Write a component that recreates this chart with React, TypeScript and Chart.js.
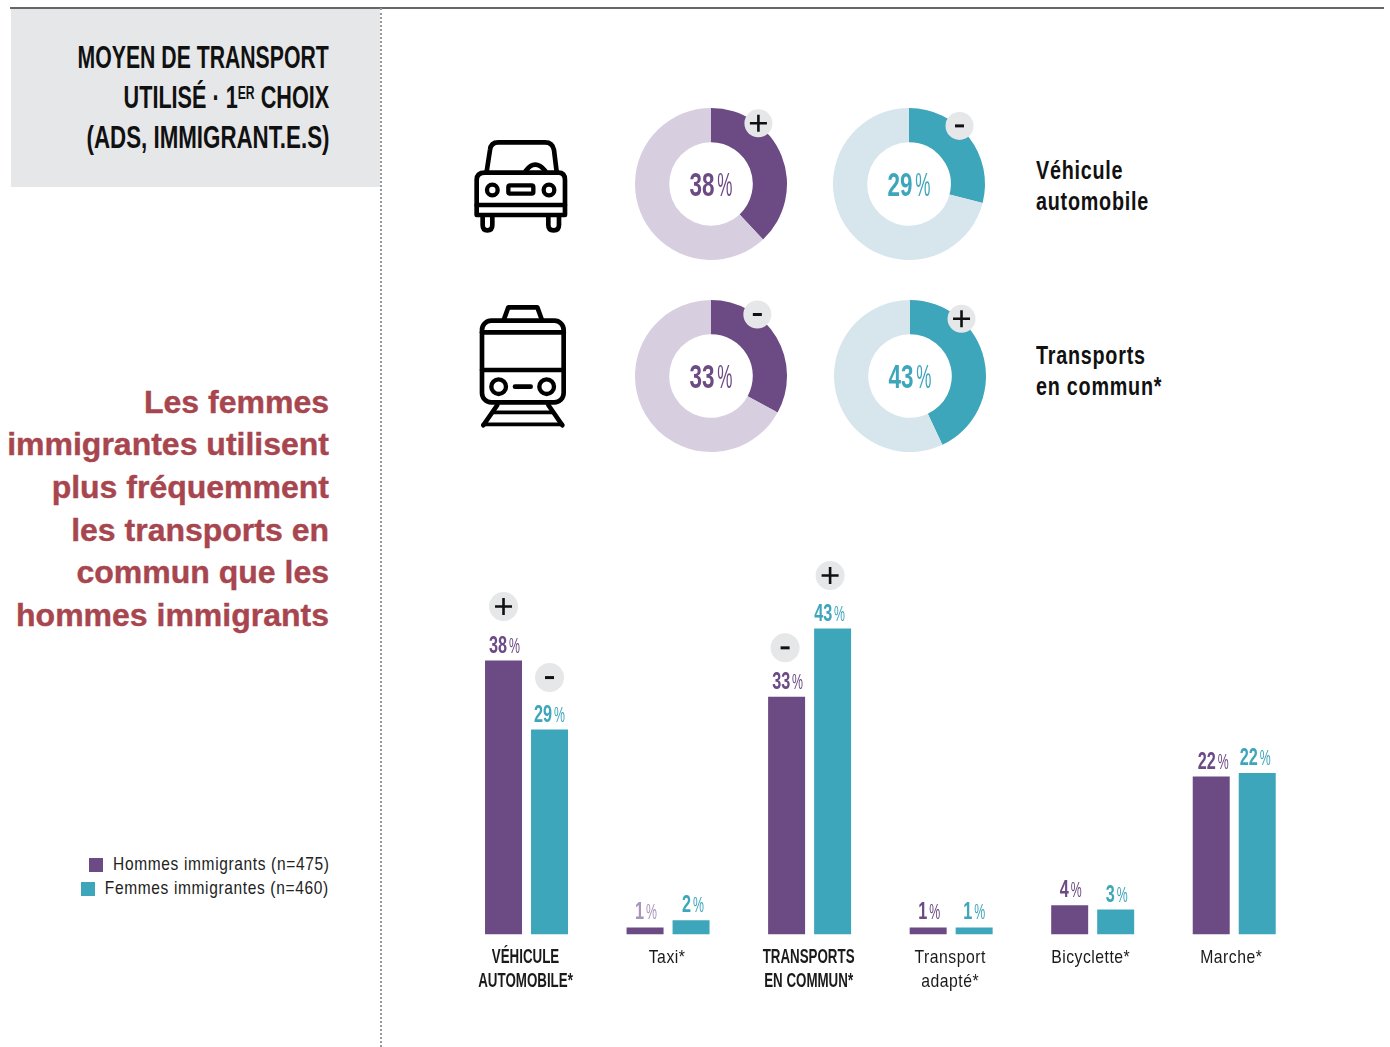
import React, { useEffect, useRef } from "react";
import { Chart, registerables } from "chart.js";

Chart.register(...registerables);

const categories = [["VÉHICULE", "AUTOMOBILE*"], ["Taxi*"], ["TRANSPORTS", "EN COMMUN*"], ["Transport", "adapté*"], ["Bicyclette*"], ["Marche*"]];
const boldCategories = [true, false, true, false, false, false];
const menBars = [38.5, 1, 33.4, 1, 4.1, 22.2];
const womenBars = [28.8, 2, 43, 1, 3.5, 22.7];
const menLabels = ["38", "1", "33", "1", "4", "22"];
const womenLabels = ["29", "2", "43", "1", "3", "22"];
const menBadges = ["+", "", "-", "", "", ""];
const womenBadges = ["-", "", "+", "", "", ""];
const fadedMenLabels = [false, true, false, false, false, false];

const donutValues = [38, 29, 33, 43];
const donutBadges = ["+", "-", "-", "+"];
const seriesNames = ["Hommes immigrants (n=475)", "Femmes immigrantes (n=460)"];

const PURPLE = "#6c4a83";
const TEAL = "#3ea6ba";
const PURPLE_LIGHT = "#d7cfdf";
const TEAL_LIGHT = "#d6e6ec";
const BADGE = "#e6e7e8";
const NARROW = '"Liberation Sans Narrow", "Liberation Sans", sans-serif';

function drawPct(ctx: CanvasRenderingContext2D, x: number, y: number, num: string, size: number, color: string, sx: number) {
  ctx.save();
  ctx.translate(x, y);
  ctx.scale(sx, 1);
  ctx.fillStyle = color;
  ctx.textBaseline = "alphabetic";
  ctx.textAlign = "left";
  ctx.font = `bold ${size}px ${NARROW}`;
  const w1 = ctx.measureText(num).width;
  const gap = size * 0.12;
  ctx.font = `${size * 0.95}px ${NARROW}`;
  const w2 = ctx.measureText("%").width * 0.8;
  const start = -(w1 + gap + w2) / 2;
  ctx.font = `bold ${size}px ${NARROW}`;
  ctx.fillText(num, start, 0);
  ctx.translate(start + w1 + gap, 0);
  ctx.scale(0.8, 1);
  ctx.font = `${size * 0.95}px ${NARROW}`;
  ctx.fillText("%", 0, 0);
  ctx.restore();
}

function drawBadge(ctx: CanvasRenderingContext2D, x: number, y: number, sign: string, r: number) {
  ctx.save();
  ctx.fillStyle = BADGE;
  ctx.beginPath();
  ctx.arc(x, y, r, 0, Math.PI * 2);
  ctx.fill();
  ctx.strokeStyle = "#111";
  ctx.lineWidth = 2.6;
  ctx.beginPath();
  if (sign === "+") {
    ctx.moveTo(x - 8.5, y);
    ctx.lineTo(x + 8.5, y);
    ctx.moveTo(x, y - 8.5);
    ctx.lineTo(x, y + 8.5);
  } else {
    ctx.lineWidth = 3;
    ctx.moveTo(x - 4.5, y);
    ctx.lineTo(x + 4.5, y);
  }
  ctx.stroke();
  ctx.restore();
}

function Donut({ index, left, top, badgeAngle }: { index: number; left: number; top: number; badgeAngle: number }) {
  const ref = useRef<HTMLCanvasElement>(null);
  useEffect(() => {
    const value = donutValues[index];
    const isMen = index % 2 === 0;
    const chart = new Chart(ref.current!, {
      type: "doughnut",
      data: {
        labels: ["Oui", "Autre"],
        datasets: [
          {
            data: [value, 100 - value],
            backgroundColor: [isMen ? PURPLE : TEAL, isMen ? PURPLE_LIGHT : TEAL_LIGHT],
            borderWidth: 0,
          },
        ],
      },
      options: {
        animation: false,
        responsive: false,
        cutout: "55%",
        layout: { padding: 10 },
        plugins: { legend: { display: false }, tooltip: { enabled: false } },
      },
      plugins: [
        {
          id: "donutText",
          afterDraw(c: any) {
            const arc = c.getDatasetMeta(0).data[0];
            const ctx = c.ctx;
            drawPct(ctx, arc.x, arc.y + 12, String(value), 34, isMen ? PURPLE : TEAL, 0.66);
            const a = (badgeAngle * Math.PI) / 180;
            drawBadge(ctx, arc.x + 77 * Math.sin(a), arc.y - 77 * Math.cos(a), donutBadges[index], 14);
          },
        },
      ],
    } as any);
    return () => chart.destroy();
  }, []);
  return <canvas ref={ref} width={172} height={172} style={{ position: "absolute", left, top, width: 172, height: 172 }} />;
}

function Bars() {
  const ref = useRef<HTMLCanvasElement>(null);
  useEffect(() => {
    const badgeNudge: Record<string, [number, number]> = {
      "0-0": [0, -54],
      "1-0": [0, -52],
      "0-2": [-1.5, -49],
      "1-2": [-2.5, -53],
    };
    const menLabelNudge = [1, 1, 1, 1, 1, 2];
    const womenLabelNudge = [0, 2, -3, 0, 1, -2];
    const categoryNudge = [-1, -1, -1, -1, -2, -3];
    const chart = new Chart(ref.current!, {
      type: "bar",
      data: {
        labels: categories.map((c) => c.join(" ")),
        datasets: [
          { label: seriesNames[0], data: menBars, backgroundColor: PURPLE, borderWidth: 0, categoryPercentage: 0.65, barPercentage: 0.804 },
          { label: seriesNames[1], data: womenBars, backgroundColor: TEAL, borderWidth: 0, categoryPercentage: 0.65, barPercentage: 0.804 },
        ],
      },
      options: {
        animation: false,
        responsive: false,
        layout: { padding: { left: 15.75, right: 15, top: 0, bottom: 65.5 } },
        scales: {
          x: { display: false, grid: { display: false } },
          y: { display: false, min: 0, max: 52.63, grid: { display: false } },
        },
        plugins: { legend: { display: false }, tooltip: { enabled: false } },
      },
      plugins: [
        {
          id: "barText",
          afterDraw(c: any) {
            const ctx = c.ctx;
            [c.getDatasetMeta(0), c.getDatasetMeta(1)].forEach((meta: any, ds: number) => {
              meta.data.forEach((bar: any, i: number) => {
                const num = (ds === 0 ? menLabels : womenLabels)[i];
                const faded = ds === 0 && fadedMenLabels[i];
                const color = faded ? "#a994bb" : ds === 0 ? PURPLE : TEAL;
                const nudge = (ds === 0 ? menLabelNudge : womenLabelNudge)[i];
                drawPct(ctx, bar.x + nudge, bar.y - 8, num, 23.5, color, 0.69);
                const sign = (ds === 0 ? menBadges : womenBadges)[i];
                if (sign) {
                  const [dx, dy] = badgeNudge[`${ds}-${i}`];
                  drawBadge(ctx, bar.x + dx, bar.y + dy, sign, 14.5);
                }
              });
            });
            const xs = c.scales.x;
            categories.forEach((lines, i) => {
              const cx = xs.getPixelForValue(i) + categoryNudge[i];
              lines.forEach((line, l) => {
                const bold = boldCategories[i];
                const y = 402.5 + 24 * l;
                ctx.save();
                ctx.translate(cx, y);
                ctx.scale(bold ? 0.667 : 0.83, 1);
                ctx.font = `${bold ? "bold " : ""}${bold ? 20 : 19}px ${NARROW}`;
                (ctx as any).letterSpacing = bold ? "0px" : "0.6px";
                ctx.fillStyle = "#1a1a1a";
                ctx.textAlign = "center";
                ctx.textBaseline = "alphabetic";
                ctx.fillText(line, 0, 0);
                ctx.restore();
              });
            });
          },
        },
      ],
    } as any);
    return () => chart.destroy();
  }, []);
  return <canvas ref={ref} width={880} height={440} style={{ position: "absolute", left: 440, top: 560, width: 880, height: 440 }} />;
}

function Txt({ children, x, y, size, align = "right", sx = 1, bold = false, color = "#111", family = NARROW, spacing = 0, stroke = 0 }: any) {
  const style: any = {
    position: "absolute",
    top: y - size,
    lineHeight: `${size * 2}px`,
    fontFamily: family,
    fontSize: size,
    fontWeight: bold ? 700 : 400,
    color,
    whiteSpace: "nowrap",
    letterSpacing: spacing,
    transform: `scaleX(${sx})`,
    WebkitTextStroke: stroke ? `${stroke}px ${color}` : undefined,
  };
  if (align === "right") {
    style.right = 1390 - x;
    style.transformOrigin = "right center";
  } else {
    style.left = x;
    style.transformOrigin = "left center";
  }
  return <div style={style}>{children}</div>;
}

function Icons() {
  return (
    <svg width={1390} height={1047} style={{ position: "absolute", left: 0, top: 0, pointerEvents: "none" }}>
      <g transform="translate(460,90) scale(0.3333)" fill="none" stroke="#000" strokeWidth={14} strokeLinecap="round" strokeLinejoin="round">
        <path d="M80 245 L90 180 Q92 157 115 157 H255 Q278 157 282 180 L290 245" />
        <path d="M50 375 V270 Q50 248 75 248 H295 Q315 248 315 270 V375 Z" />
        <path d="M197 243 Q225 205 256 243" />
        <path d="M50 345 H315" />
        <circle cx={97} cy={300} r={16} strokeWidth={13} />
        <circle cx={267} cy={300} r={16} strokeWidth={13} />
        <rect x={145} y={286} width={75} height={25} rx={5} strokeWidth={13} />
        <path d="M68 378 V405 Q68 421 82 421 Q97 421 97 405 V378" />
        <path d="M265 378 V405 Q265 421 281 421 Q297 421 297 405 V378" />
      </g>
      <g transform="translate(460,90) scale(0.3333)" fill="none" stroke="#000" strokeWidth={14} strokeLinecap="round" strokeLinejoin="round">
        <path d="M132 688 L145 652 H232 L245 688" />
        <rect x={66} y={692} width={245} height={245} rx={28} />
        <path d="M66 727 H311" />
        <path d="M66 840 H311" />
        <circle cx={116} cy={890} r={22} strokeWidth={13} />
        <circle cx={260} cy={890} r={22} strokeWidth={13} />
        <path d="M165 890 H212" />
        <path d="M112 945 L70 1006" />
        <path d="M265 945 L307 1006" />
        <path d="M100 967 H278" strokeWidth={11} />
        <path d="M70 1003 H307" strokeWidth={11} />
      </g>
    </svg>
  );
}

export default function App() {
  const red = "#a8464f";
  const redLines = ["Les femmes", "immigrantes utilisent", "plus fréquemment", "les transports en", "commun que les", "hommes immigrants"];
  const redY = [402, 444, 487, 530, 572, 615];
  return (
    <div style={{ position: "absolute", left: 0, top: 0, width: 1390, height: 1047, overflow: "hidden", background: "#fff" }}>
      <div style={{ position: "absolute", left: 11, top: 9, width: 369, height: 178, background: BADGE }} />
      <div style={{ position: "absolute", left: 10, top: 7, width: 1374, height: 2, background: "#666" }} />
      <div style={{ position: "absolute", left: 380, top: 8, height: 1039, borderLeft: "2px dotted #999" }} />

      <Txt x={329} y={57} size={32} sx={0.663} bold>MOYEN DE TRANSPORT</Txt>
      <Txt x={329} y={97} size={32} sx={0.676} bold>
        UTILISÉ · 1<sup style={{ fontSize: 18, lineHeight: 0, verticalAlign: "9px" }}>ER</sup> CHOIX
      </Txt>
      <Txt x={329} y={137} size={32} sx={0.697} bold>(ADS, IMMIGRANT.E.S)</Txt>

      {redLines.map((t, i) => (
        <Txt key={i} x={329} y={redY[i]} size={32} bold color={red} stroke={0.4} family='"Liberation Sans", sans-serif'>{t}</Txt>
      ))}

      <div style={{ position: "absolute", left: 89, top: 858, width: 14, height: 14, background: PURPLE }} />
      <div style={{ position: "absolute", left: 81, top: 882, width: 14, height: 14, background: TEAL }} />
      <Txt x={329} y={864} size={19} sx={0.815} spacing={0.8} color="#222">{seriesNames[0]}</Txt>
      <Txt x={329} y={888} size={19} sx={0.815} spacing={0.8} color="#222">{seriesNames[1]}</Txt>

      <Txt x={1036} y={170} size={26} align="left" sx={0.76} bold spacing={1}>Véhicule</Txt>
      <Txt x={1036} y={201} size={26} align="left" sx={0.76} bold spacing={1}>automobile</Txt>
      <Txt x={1036} y={355} size={26} align="left" sx={0.76} bold spacing={1}>Transports</Txt>
      <Txt x={1036} y={386} size={26} align="left" sx={0.76} bold spacing={1}>en commun*</Txt>

      <Icons />
      <Donut index={0} left={625} top={98} badgeAngle={38} />
      <Donut index={1} left={823} top={98} badgeAngle={41} />
      <Donut index={2} left={625} top={290} badgeAngle={37} />
      <Donut index={3} left={824} top={290} badgeAngle={42} />
      <Bars />
    </div>
  );
}
